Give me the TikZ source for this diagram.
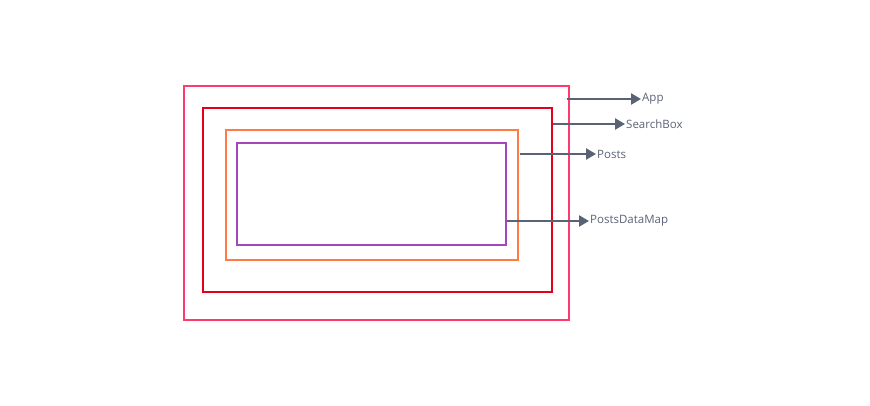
\documentclass[tikz,border=0pt]{standalone}
\usepackage{fontspec}
\setmainfont{Open Sans}
\usepackage{xcolor}
\usetikzlibrary{arrows.meta}
\definecolor{appc}{HTML}{FF3B6E}
\definecolor{searchc}{HTML}{E2001A}
\definecolor{postsc}{HTML}{FF7A45}
\definecolor{mapc}{HTML}{A447BE}
\definecolor{arrowc}{HTML}{5A6275}
\begin{document}
\begin{tikzpicture}[x=1pt,y=-1pt,
  box/.style={line width=2pt},
  pointer/.style={line width=2.4pt,arrowc,-{Triangle[length=10pt,width=11pt]}},
  lbl/.style={anchor=west,inner sep=1pt,text=arrowc,font=\fontsize{11.5}{13}\selectfont}]
\useasboundingbox (0,0) rectangle (870,406);
% nested boxes
\draw[box,appc] (184,86) rectangle (569,320);
\draw[box,searchc] (203,108) rectangle (552,292);
\draw[box,postsc] (226,130) rectangle (518,260);
\draw[box,mapc] (237,143) rectangle (506,245);
% arrow starts
\coordinate (appS) at (567,99);
\coordinate (searchS) at (553,124);
\coordinate (postsS) at (520,154);
\coordinate (mapS) at (507,221);
% labels
\node[lbl] (app) at (641,98.5) {App};
\node[lbl] (search) at (625,124) {SearchBox};
\node[lbl] (posts) at (596,154) {Posts};
\node[lbl] (map) at (589,220.5) {PostsDataMap};
\draw[pointer] (appS) -- (appS -| app.west);
\draw[pointer] (searchS) -- (searchS -| search.west);
\draw[pointer] (postsS) -- (postsS -| posts.west);
\draw[pointer] (mapS) -- (mapS -| map.west);
\end{tikzpicture}
\end{document}
